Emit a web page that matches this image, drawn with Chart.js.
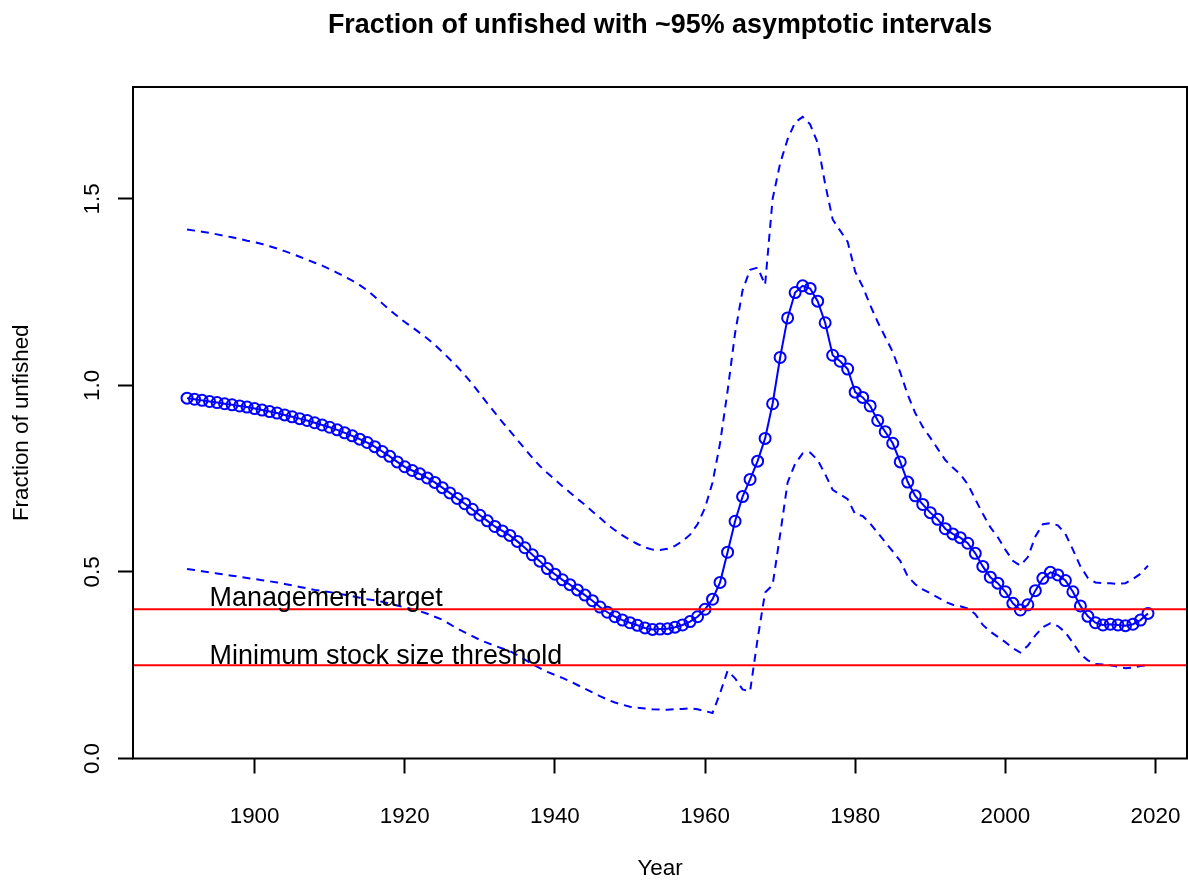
<!DOCTYPE html>
<html>
<head>
<meta charset="utf-8">
<script src="https://cdn.jsdelivr.net/npm/chart.js@4.4.1/dist/chart.umd.min.js"></script>
<style>
    html, body { margin: 0; padding: 0; background: #fff; }
    #wrap { width: 1188px; height: 882px; position: relative; }
</style>
</head>
<body>
<div id="wrap"><canvas id="chart"></canvas></div>
<script>
// Data
const years = [
    1891, 1892, 1893, 1894, 1895, 1896, 1897, 1898, 1899, 1900,
    1901, 1902, 1903, 1904, 1905, 1906, 1907, 1908, 1909, 1910,
    1911, 1912, 1913, 1914, 1915, 1916, 1917, 1918, 1919, 1920,
    1921, 1922, 1923, 1924, 1925, 1926, 1927, 1928, 1929, 1930,
    1931, 1932, 1933, 1934, 1935, 1936, 1937, 1938, 1939, 1940,
    1941, 1942, 1943, 1944, 1945, 1946, 1947, 1948, 1949, 1950,
    1951, 1952, 1953, 1954, 1955, 1956, 1957, 1958, 1959, 1960,
    1961, 1962, 1963, 1964, 1965, 1966, 1967, 1968, 1969, 1970,
    1971, 1972, 1973, 1974, 1975, 1976, 1977, 1978, 1979, 1980,
    1981, 1982, 1983, 1984, 1985, 1986, 1987, 1988, 1989, 1990,
    1991, 1992, 1993, 1994, 1995, 1996, 1997, 1998, 1999, 2000,
    2001, 2002, 2003, 2004, 2005, 2006, 2007, 2008, 2009, 2010,
    2011, 2012, 2013, 2014, 2015, 2016, 2017, 2018, 2019
];

const fracUnfished = [
    0.966, 0.963, 0.960, 0.957, 0.954, 0.951, 0.948, 0.945, 0.942, 0.938,
    0.934, 0.930, 0.926, 0.921, 0.916, 0.911, 0.906, 0.900, 0.894, 0.888,
    0.881, 0.873, 0.865, 0.856, 0.847, 0.836, 0.823, 0.810, 0.795, 0.782,
    0.772, 0.763, 0.752, 0.740, 0.726, 0.712, 0.697, 0.683, 0.668, 0.652,
    0.637, 0.622, 0.610, 0.598, 0.582, 0.565, 0.546, 0.529, 0.509, 0.494,
    0.479, 0.466, 0.452, 0.438, 0.423, 0.406, 0.392, 0.380, 0.371, 0.364,
    0.357, 0.350, 0.346, 0.347, 0.348, 0.352, 0.358, 0.367, 0.380, 0.400,
    0.427, 0.472, 0.553, 0.636, 0.702, 0.748, 0.797, 0.858, 0.951, 1.075,
    1.181, 1.249, 1.267, 1.260, 1.226, 1.168, 1.081, 1.065, 1.044, 0.982,
    0.968, 0.945, 0.906, 0.876, 0.845, 0.795, 0.741, 0.704, 0.681, 0.659,
    0.641, 0.616, 0.602, 0.592, 0.577, 0.550, 0.515, 0.486, 0.470, 0.447,
    0.416, 0.398, 0.412, 0.450, 0.483, 0.499, 0.492, 0.477, 0.447, 0.409,
    0.381, 0.364, 0.358, 0.360, 0.358, 0.356, 0.360, 0.371, 0.389
];

const upperCI = [
    1.418, 1.415, 1.412, 1.409, 1.405, 1.401, 1.397, 1.393, 1.388, 1.384,
    1.379, 1.373, 1.367, 1.360, 1.353, 1.345, 1.337, 1.329, 1.321, 1.312,
    1.302, 1.292, 1.281, 1.269, 1.255, 1.238, 1.220, 1.202, 1.186, 1.170,
    1.156, 1.141, 1.126, 1.109, 1.090, 1.070, 1.050, 1.028, 1.004, 0.978,
    0.952, 0.927, 0.902, 0.878, 0.854, 0.830, 0.806, 0.784, 0.765, 0.748,
    0.730, 0.713, 0.696, 0.680, 0.662, 0.645, 0.627, 0.612, 0.598, 0.586,
    0.575, 0.566, 0.560, 0.559, 0.562, 0.570, 0.583, 0.600, 0.628, 0.672,
    0.740, 0.845, 0.985, 1.140, 1.255, 1.310, 1.316, 1.270, 1.500, 1.595,
    1.660, 1.705, 1.720, 1.700, 1.650, 1.540, 1.445, 1.415, 1.385, 1.305,
    1.265, 1.215, 1.170, 1.130, 1.090, 1.035, 0.975, 0.926, 0.889, 0.860,
    0.830, 0.800, 0.780, 0.762, 0.735, 0.695, 0.656, 0.620, 0.593, 0.560,
    0.530, 0.517, 0.540, 0.595, 0.628, 0.631, 0.625, 0.602, 0.560, 0.515,
    0.484, 0.472, 0.470, 0.470, 0.468, 0.470, 0.481, 0.495, 0.517
];

const lowerCI = [
    0.508, 0.505, 0.502, 0.499, 0.496, 0.493, 0.490, 0.487, 0.484, 0.481,
    0.478, 0.475, 0.472, 0.468, 0.464, 0.460, 0.456, 0.452, 0.449, 0.446,
    0.442, 0.439, 0.435, 0.431, 0.427, 0.424, 0.420, 0.415, 0.410, 0.405,
    0.400, 0.395, 0.388, 0.380, 0.372, 0.360, 0.348, 0.338, 0.328, 0.318,
    0.310, 0.302, 0.295, 0.288, 0.277, 0.265, 0.253, 0.242, 0.232, 0.224,
    0.216, 0.207, 0.197, 0.187, 0.177, 0.167, 0.158, 0.150, 0.144, 0.139,
    0.136, 0.134, 0.132, 0.131, 0.131, 0.132, 0.133, 0.135, 0.132, 0.127,
    0.122, 0.175, 0.235, 0.215, 0.185, 0.180, 0.320, 0.445, 0.465, 0.600,
    0.740, 0.790, 0.818, 0.820, 0.800, 0.762, 0.720, 0.708, 0.695, 0.655,
    0.650, 0.630, 0.605, 0.580, 0.555, 0.530, 0.488, 0.467, 0.453, 0.443,
    0.432, 0.420, 0.412, 0.408, 0.402, 0.387, 0.358, 0.340, 0.326, 0.312,
    0.296, 0.284, 0.302, 0.330, 0.352, 0.362, 0.355, 0.338, 0.310, 0.280,
    0.263, 0.253, 0.252, 0.250, 0.246, 0.242, 0.244, 0.248, 0.250
];

const refLevels = [0.4, 0.25];
const refLabels = ['Management target', 'Minimum stock size threshold'];
const refLabelYear = 1894;

const xTicks = [1900, 1920, 1940, 1960, 1980, 2000, 2020];
const yTicks = [0, 0.5, 1.0, 1.5];
const xRange = [1883.8, 2024.2];
const yRange = [0, 1.8];

const chartTitle = 'Fraction of unfished with ~95% asymptotic intervals';
const xTitle = 'Year';
const yTitle = 'Fraction of unfished';

const FONT = 'Arial, "Liberation Sans", sans-serif';
const BLUE = '#0000ff';
const RED = '#ff0000';

const toPoints = (vals) => years.map((yr, i) => ({ x: yr, y: vals[i] }));

// Box around the plot, R-style title, and the text next to the reference lines
const decorPlugin = {
    id: 'decor',
    afterDatasetsDraw(chart) {
        const { ctx, scales } = chart;
        ctx.save();
        ctx.fillStyle = '#000';
        ctx.font = '26.9px ' + FONT;
        ctx.textAlign = 'left';
        ctx.textBaseline = 'alphabetic';
        const lift = [3, 1];
        refLabels.forEach((lbl, i) => {
            ctx.fillText(lbl, scales.x.getPixelForValue(refLabelYear), scales.y.getPixelForValue(refLevels[i]) - lift[i]);
        });
        ctx.restore();
    },
    afterDraw(chart) {
        const { ctx, chartArea: a } = chart;
        ctx.save();
        ctx.strokeStyle = '#000';
        ctx.lineWidth = 2;
        ctx.strokeRect(a.left, a.top, a.right - a.left, a.bottom - a.top);
        ctx.fillStyle = '#000';
        ctx.font = 'bold 26.9px ' + FONT;
        ctx.textAlign = 'center';
        ctx.textBaseline = 'middle';
        ctx.fillText(chartTitle, (a.left + a.right) / 2, 26);
        ctx.restore();
    }
};

const tickGrid = {
    display: true,
    drawOnChartArea: false,
    drawTicks: true,
    tickLength: 15,
    tickWidth: 2,
    tickColor: '#000'
};

new Chart(document.getElementById('chart'), {
    type: 'line',
    data: {
        datasets: [
            ...refLevels.map(lv => ({
                data: [{ x: xRange[0], y: lv }, { x: xRange[1], y: lv }],
                borderColor: RED,
                borderWidth: 2,
                pointRadius: 0
            })),
            {
                data: toPoints(fracUnfished),
                borderColor: BLUE,
                borderWidth: 2,
                pointRadius: 5.5,
                pointBorderWidth: 2,
                pointBorderColor: BLUE,
                pointBackgroundColor: 'rgba(0,0,0,0)',
                tension: 0
            },
            {
                data: toPoints(upperCI),
                borderColor: BLUE,
                borderWidth: 2,
                borderDash: [8, 6],
                pointRadius: 0,
                tension: 0
            },
            {
                data: toPoints(lowerCI),
                borderColor: BLUE,
                borderWidth: 2,
                borderDash: [8, 6],
                pointRadius: 0,
                tension: 0
            }
        ]
    },
    options: {
        responsive: true,
        maintainAspectRatio: false,
        animation: false,
        layout: { autoPadding: false, padding: { top: 87, right: 1, bottom: 0, left: 0 } },
        plugins: { legend: { display: false }, tooltip: { enabled: false }, title: { display: false } },
        scales: {
            x: {
                type: 'linear',
                min: xRange[0], max: xRange[1],
                afterBuildTicks: (s) => { s.ticks = xTicks.map(v => ({ value: v })); },
                afterFit: (s) => { s.height = 123.5; s.paddingLeft = 0; s.paddingRight = 0; },
                grid: tickGrid,
                border: { display: false },
                ticks: {
                    autoSkip: false, maxRotation: 0, padding: 30,
                    color: '#000', font: { family: FONT, size: 22.4 },
                    callback: (v) => String(v)
                },
                title: {
                    display: true, text: xTitle, color: '#000',
                    font: { family: FONT, size: 22.4 }, padding: { top: 0, bottom: 0 }
                }
            },
            y: {
                type: 'linear',
                min: yRange[0], max: yRange[1],
                afterBuildTicks: (s) => { s.ticks = yTicks.map(v => ({ value: v })); },
                afterFit: (s) => { s.width = 133; s.paddingTop = 0; s.paddingBottom = 0; },
                grid: tickGrid,
                border: { display: false },
                ticks: {
                    autoSkip: false, minRotation: 90, maxRotation: 90, crossAlign: 'center', padding: 9.4,
                    color: '#000', font: { family: FONT, size: 22.4 },
                    callback: (v) => Number(v).toFixed(1)
                },
                title: {
                    display: true, text: yTitle, color: '#000',
                    font: { family: FONT, size: 22.4 }, padding: { top: 8.6, bottom: 0 }
                }
            }
        }
    },
    plugins: [decorPlugin]
});
</script>
</body>
</html>
